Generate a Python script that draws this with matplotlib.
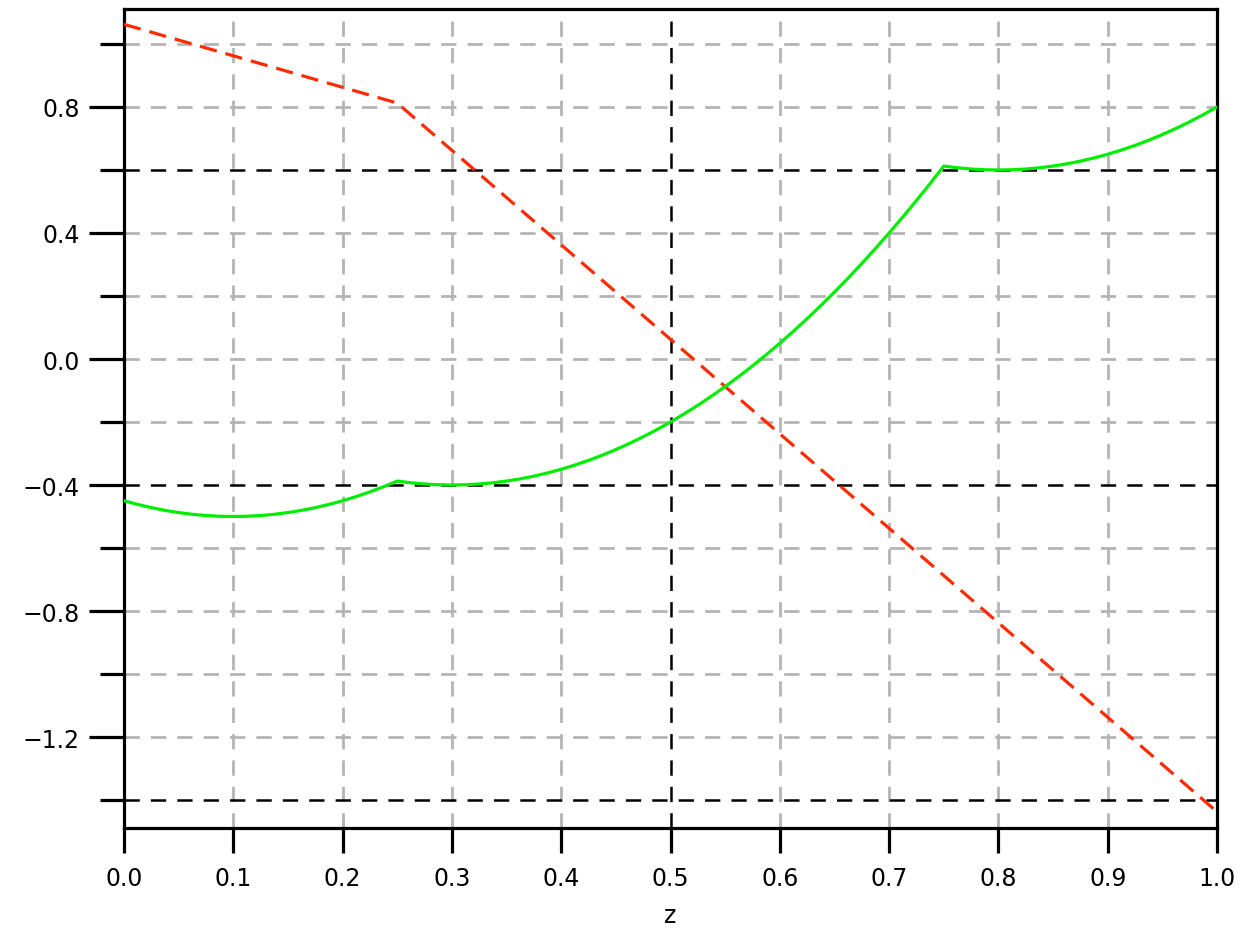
import matplotlib
matplotlib.use("Agg")
import matplotlib.pyplot as plt
from matplotlib.ticker import FixedLocator, FixedFormatter

plt.rcParams['font.family'] = ['DejaVu Sans']
plt.rcParams['lines.scale_dashes'] = False

# Data
red_z = [0.0, 0.25, 1.0]
red_y = [1.0625, 0.8125, -1.4375]

green_z = [0.0, 0.0125, 0.025, 0.0375, 0.05, 0.0625, 0.075, 0.0875, 0.1,
           0.1125, 0.125, 0.1375, 0.15, 0.1625, 0.175, 0.1875, 0.2,
           0.2125, 0.225, 0.2375, 0.25,
           0.2625, 0.275, 0.2875, 0.3, 0.3125, 0.325, 0.3375, 0.35,
           0.3625, 0.375, 0.3875, 0.4, 0.4125, 0.425, 0.4375, 0.45,
           0.4625, 0.475, 0.4875, 0.5, 0.5125, 0.525, 0.5375, 0.55,
           0.5625, 0.575, 0.5875, 0.6, 0.6125, 0.625, 0.6375, 0.65,
           0.6625, 0.675, 0.6875, 0.7, 0.7125, 0.725, 0.7375, 0.75,
           0.7625, 0.775, 0.7875, 0.8, 0.8125, 0.825, 0.8375, 0.85,
           0.8625, 0.875, 0.8875, 0.9, 0.9125, 0.925, 0.9375, 0.95,
           0.9625, 0.975, 0.9875, 1.0]
green_y = [-0.45, -0.4617, -0.4719, -0.4805, -0.4875, -0.4930, -0.4969, -0.4992, -0.5,
           -0.4992, -0.4969, -0.4930, -0.4875, -0.4805, -0.4719, -0.4617, -0.45,
           -0.4367, -0.4219, -0.4055, -0.3875,
           -0.3930, -0.3969, -0.3992, -0.4, -0.3992, -0.3969, -0.3930, -0.3875,
           -0.3805, -0.3719, -0.3617, -0.35, -0.3367, -0.3219, -0.3055, -0.2875,
           -0.2680, -0.2469, -0.2242, -0.2, -0.1742, -0.1469, -0.1180, -0.0875,
           -0.0555, -0.0219, 0.0133, 0.05, 0.0883, 0.1281, 0.1695, 0.2125,
           0.2570, 0.3031, 0.3508, 0.4, 0.4508, 0.5031, 0.5570, 0.6125,
           0.6070, 0.6031, 0.6008, 0.6, 0.6008, 0.6031, 0.6070, 0.6125,
           0.6195, 0.6281, 0.6383, 0.65, 0.6633, 0.6781, 0.6945, 0.7125,
           0.7320, 0.7531, 0.7758, 0.8]

xticks = [0.0, 0.1, 0.2, 0.3, 0.4, 0.5, 0.6, 0.7, 0.8, 0.9, 1.0]
xtick_labels = ["0.0", "0.1", "0.2", "0.3", "0.4", "0.5", "0.6", "0.7", "0.8", "0.9", "1.0"]
yticks_major = [0.8, 0.4, 0.0, -0.4, -0.8, -1.2]
ytick_labels = ["0.8", "0.4", "0.0", "\u22120.4", "\u22120.8", "\u22121.2"]
yticks_minor = [1.0, 0.6, 0.2, -0.2, -0.6, -1.0, -1.4]

gray_x = [0.1, 0.2, 0.3, 0.4, 0.6, 0.7, 0.8, 0.9]
gray_y = [1.0, 0.8, 0.4, 0.2, 0.0, -0.2, -0.6, -0.8, -1.0, -1.2]
black_x = [0.5]
black_y = [0.6, -0.4, -1.4]

fig = plt.figure(figsize=(12.41, 9.29), dpi=100)
ax = fig.add_axes([0.0999, 0.1076, 0.9807 - 0.0999, 0.9892 - 0.1076])
ax.set_xlim(0.0, 1.0)
ax.set_ylim(-1.489, 1.111)

grid_dash = (0, (11, 8))
for gx in gray_x:
    ax.axvline(gx, color='#b4b4b4', lw=2.0, linestyle=grid_dash, zorder=1)
for gy in gray_y:
    ax.axhline(gy, color='#b4b4b4', lw=2.0, linestyle=grid_dash, zorder=1)
for bx in black_x:
    ax.axvline(bx, color='black', lw=1.8, linestyle=grid_dash, zorder=2)
for by in black_y:
    ax.axhline(by, color='black', lw=1.8, linestyle=grid_dash, zorder=2)

ax.plot(red_z, red_y, color='#ff2a00', lw=2.3, linestyle=(0, (12.5, 6.5)), zorder=3)
ax.plot(green_z, green_y, color='#00ee00', lw=2.3, zorder=3)

ax.xaxis.set_major_locator(FixedLocator(xticks))
ax.xaxis.set_major_formatter(FixedFormatter(xtick_labels))
ax.yaxis.set_major_locator(FixedLocator(yticks_major))
ax.yaxis.set_major_formatter(FixedFormatter(ytick_labels))
ax.yaxis.set_minor_locator(FixedLocator(yticks_minor))

for s in ax.spines.values():
    s.set_linewidth(2.3)
    s.set_color('black')

ax.xaxis.set_tick_params(which='major', direction='out', length=18, width=2.3,
                         pad=9, labelsize=17, bottom=True, top=False)
ax.yaxis.set_tick_params(which='minor', direction='out', length=17, width=2.3,
                         left=True, right=False)
ax.yaxis.set_tick_params(which='major', direction='out', length=25, width=2.3,
                         pad=7, labelsize=17, left=True, right=False)

ax.set_xlabel('z', fontsize=17, labelpad=10)

fig.savefig('out.png', dpi=100)
